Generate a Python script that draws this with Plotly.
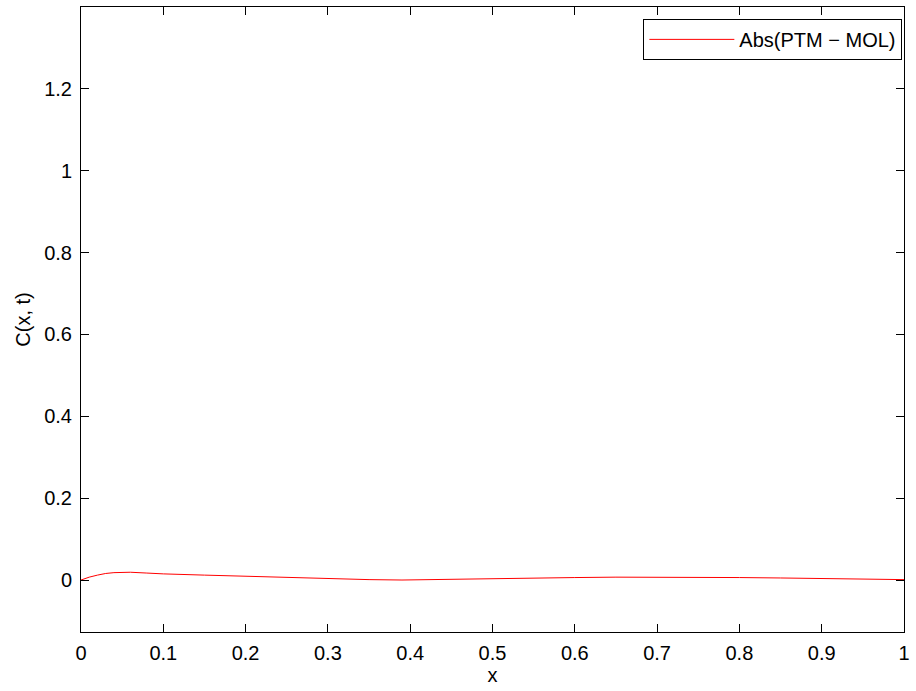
import plotly.graph_objects as go

x_vals = [0.0, 0.01, 0.02, 0.03, 0.04, 0.05, 0.06, 0.08, 0.10, 0.15, 0.20, 0.25, 0.30, 0.35, 0.39, 0.45, 0.50, 0.55, 0.60, 0.65, 0.70, 0.75, 0.80, 0.85, 0.90, 0.95, 1.0]
y_vals = [0.0, 0.007, 0.012, 0.016, 0.018, 0.019, 0.019, 0.017, 0.015, 0.012, 0.009, 0.006, 0.003, 0.001, 0.0, 0.002, 0.004, 0.005, 0.006, 0.007, 0.007, 0.007, 0.006, 0.005, 0.004, 0.003, 0.001]
series_name = "Abs(PTM \u2212 MOL)"
x_ticks = [0, 0.1, 0.2, 0.3, 0.4, 0.5, 0.6, 0.7, 0.8, 0.9, 1]
x_tick_text = ["0", "0.1", "0.2", "0.3", "0.4", "0.5", "0.6", "0.7", "0.8", "0.9", "1"]
y_ticks = [0, 0.2, 0.4, 0.6, 0.8, 1.0, 1.2]
y_tick_text = ["0", "0.2", "0.4", "0.6", "0.8", "1", "1.2"]

fig = go.Figure()
fig.add_trace(go.Scatter(x=x_vals, y=y_vals, mode="lines", name=series_name,
                         line=dict(color="#ff0000", width=1)))

font = dict(family="Liberation Sans, Arial, sans-serif", size=20, color="black")
axis_common = dict(showgrid=False, zeroline=False, showline=True, linecolor="black", linewidth=1,
                   mirror="allticks", ticks="inside", ticklen=8, tickcolor="black", tickwidth=1,
                   tickfont=font)
fig.update_xaxes(range=[0, 1], tickvals=x_ticks, ticktext=x_tick_text, ticklabelstandoff=3,
                 title=dict(text="x", font=font, standoff=4), **axis_common)
fig.update_yaxes(range=[-0.127, 1.4], tickvals=y_ticks, ticktext=y_tick_text, ticklabelstandoff=4,
                 title=dict(text="C(x, t)", font=font, standoff=8), **axis_common)

fig.update_layout(
    width=916, height=691,
    margin=dict(l=81, r=6, t=7, b=59),
    plot_bgcolor="white", paper_bgcolor="white",
    font=font,
    showlegend=True,
    legend=dict(x=0.998, y=0.981, xanchor="right", yanchor="top",
                bordercolor="black", borderwidth=1, bgcolor="white",
                font=font, itemwidth=85),
)
fig.write_html("out.html")
